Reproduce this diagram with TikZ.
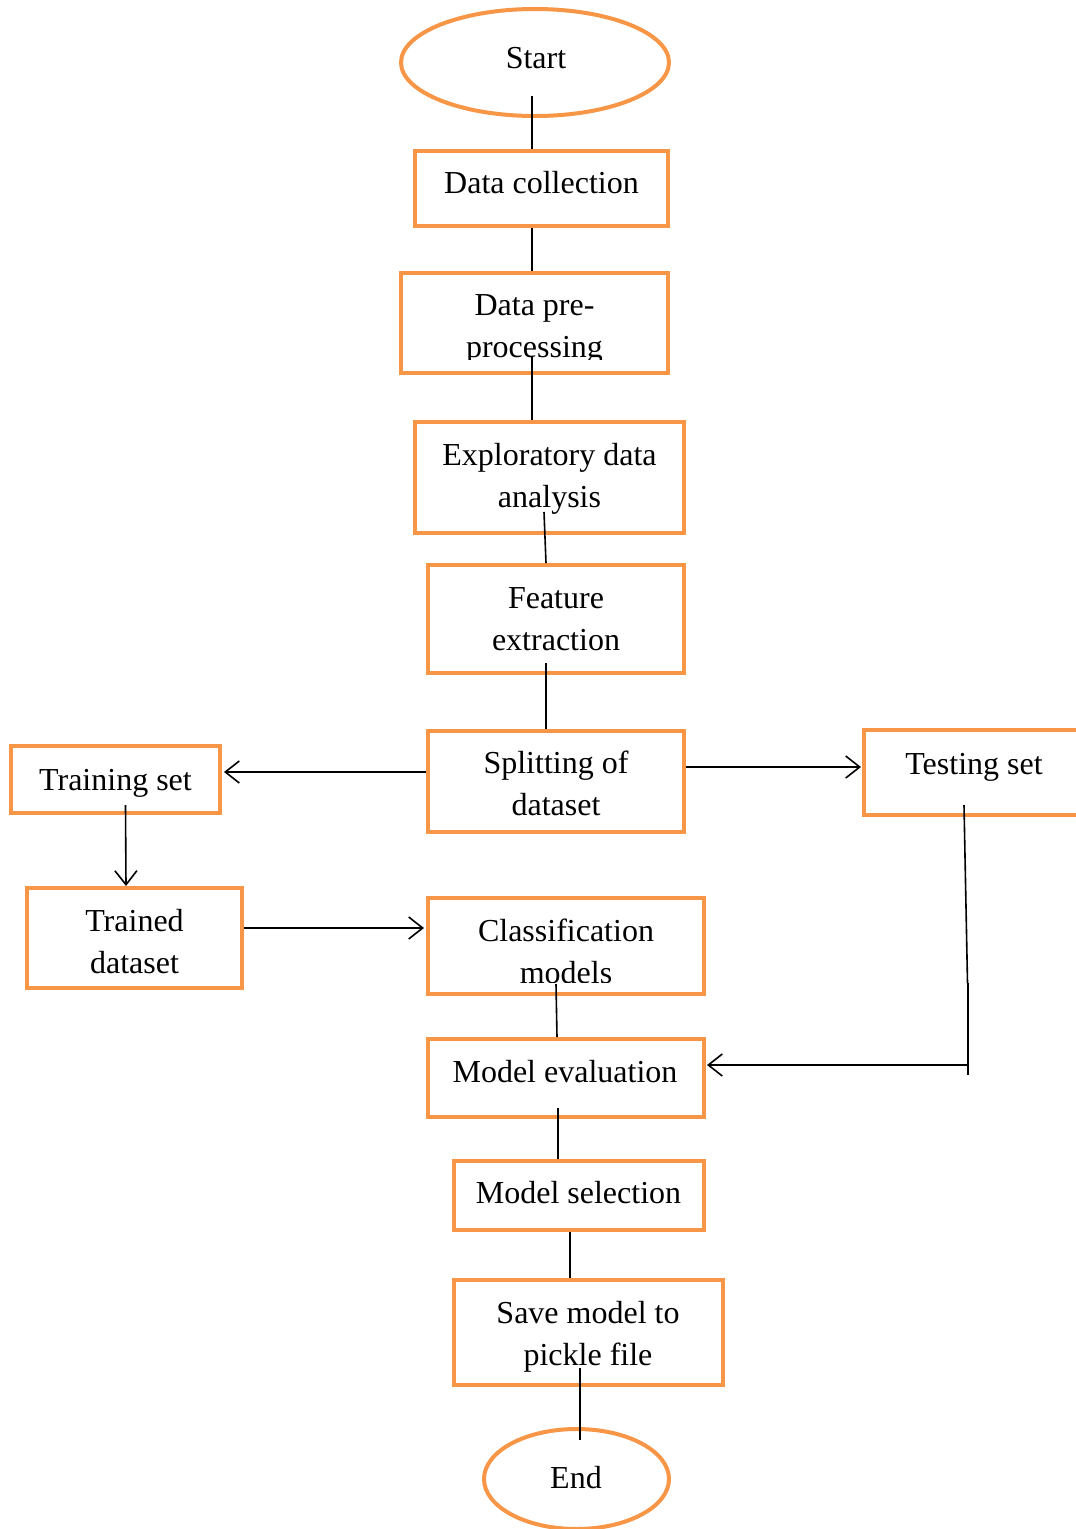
\documentclass[tikz,border=0pt]{standalone}
\usepackage{fontspec}
\setmainfont{Liberation Serif}
\usetikzlibrary{arrows.meta,calc,shapes.geometric}
\definecolor{ofc}{HTML}{F79646}
\begin{document}
\begin{tikzpicture}[x=1pt,y=-1pt,
  box/.style={draw=ofc, line width=4pt, rectangle, inner sep=0pt},
  oval/.style={draw=ofc, line width=4pt, ellipse, inner sep=0pt},
  txt/.style={font=\fontsize{32}{42}\selectfont, align=center, anchor=base, inner sep=0pt},
  conn/.style={draw=black, line width=1.6pt},
  arr/.style={conn, -{Straight Barb[length=14pt,width=22pt,line width=1.6pt]}}]
\useasboundingbox (0,0) rectangle (1076,1529);
\fill[white] (0,0) rectangle (1076,1529);

% shapes
\node[oval, minimum width=268pt, minimum height=107pt] (start) at (535,62.5) {};
\node[box, minimum width=253pt, minimum height=75pt]  (dc)  at (541.5,188.5) {};
\node[box, minimum width=267pt, minimum height=100pt] (dpp) at (534.5,323) {};
\node[box, minimum width=269pt, minimum height=111pt] (eda) at (549.5,477.5) {};
\node[box, minimum width=256pt, minimum height=108pt] (fe)  at (556,619) {};
\node[box, minimum width=256pt, minimum height=101pt] (spl) at (556,781.5) {};
\node[box, minimum width=209pt, minimum height=67pt]  (trn) at (115.5,779.5) {};
\node[box, minimum width=220pt, minimum height=85pt]  (tst) at (974,772.5) {};
\node[box, minimum width=215pt, minimum height=100pt] (trd) at (134.5,938) {};
\node[box, minimum width=276pt, minimum height=96pt]  (cls) at (566,946) {};
\node[box, minimum width=276pt, minimum height=78pt]  (me)  at (566,1078) {};
\node[box, minimum width=250pt, minimum height=69pt]  (ms)  at (579,1195.5) {};
\node[box, minimum width=269pt, minimum height=105pt] (sv)  at (588.5,1332.5) {};
\node[oval, minimum width=185pt, minimum height=100pt] (end) at (576.5,1479) {};

% texts (anchor=base is the baseline of the last line)
\node[txt] (tstart) at (536,68) {Start};
\node[txt] (tdc) at (541.5,193) {Data collection};
\begin{scope}
\clip (0,0) rectangle (1076,359);
\node[txt] (tdpp) at (534.5,357) {Data pre-\\processing};
\end{scope}
\node[txt] (teda) at (549.5,507) {Exploratory data\\analysis};
\node[txt] (tfe) at (556,650) {Feature\\extraction};
\node[txt] (tspl) at (556,815) {Splitting of\\dataset};
\node[txt] (ttrn) at (115.5,790) {Training set};
\node[txt] (ttst) at (974,774) {Testing set};
\node[txt] (ttrd) at (134.5,973) {Trained\\dataset};
\begin{scope}
\clip (0,0) rectangle (1076,982);
\node[txt] (tcls) at (566,983) {Classification\\models};
\end{scope}
\node[txt] (tme) at (565,1082) {Model evaluation};
\node[txt] (tms) at (578.5,1203) {Model selection};
\node[txt] (tsv) at (588,1365) {Save model to\\pickle file};
\node[txt] (tend) at (576,1488) {End};

% connectors
\draw[conn] ($(start.center)+(-3,33.5)$) -- ($(dc.north)+(-9.5,0)$);
\draw[conn] ($(dc.south)+(-9.5,0)$) -- ($(dpp.north)+(-2.5,0)$);
\draw[conn] ($(dpp.center)+(-2.5,32.5)$) -- ($(eda.north)+(-17.5,0)$);
\draw[conn] ($(eda.center)+(-5.5,34.5)$) -- ($(fe.north)+(-10,0)$);
\draw[conn] ($(fe.center)+(-10,44)$) -- ($(spl.north)+(-10,0)$);
\draw[arr] ($(spl.west)+(0,-9.5)$) -- ($(trn.east)+(2,-7.5)$);
\draw[arr] ($(spl.east)+(0,-14.5)$) -- ($(tst.west)+(-1,-5.5)$);
\draw[arr] ($(trn.center)+(10,25.5)$) -- ($(trd.north)+(-8.5,0)$);
\draw[arr] ($(trd.east)+(0,-10)$) -- ($(cls.west)+(-2,-18)$);
\draw[conn] ($(cls.center)+(-10,38)$) -- ($(me.north)+(-9,0)$);
\coordinate (k1) at ($(tst.center)+(-6.5,210.5)$);
\coordinate (k2) at ($(tst.center)+(-6,302.5)$);
\coordinate (k3) at ($(tst.center)+(-6,292.5)$);
\draw[conn] ($(tst.center)+(-10,32.5)$) -- (k1);
\draw[conn] ($(k1)+(0.5,0)$) -- (k2);
\draw[arr] (k3) -- ($(me.east)+(1,-13)$);
\draw[conn] ($(me.center)+(-8,30)$) -- ($(ms.north)+(-21,0)$);
\draw[conn] ($(ms.south)+(-9,0)$) -- ($(sv.north)+(-18.5,0)$);
\draw[conn] ($(sv.center)+(-8.5,35.5)$) -- ($(end.center)+(3.5,-39)$);
\end{tikzpicture}
\end{document}
